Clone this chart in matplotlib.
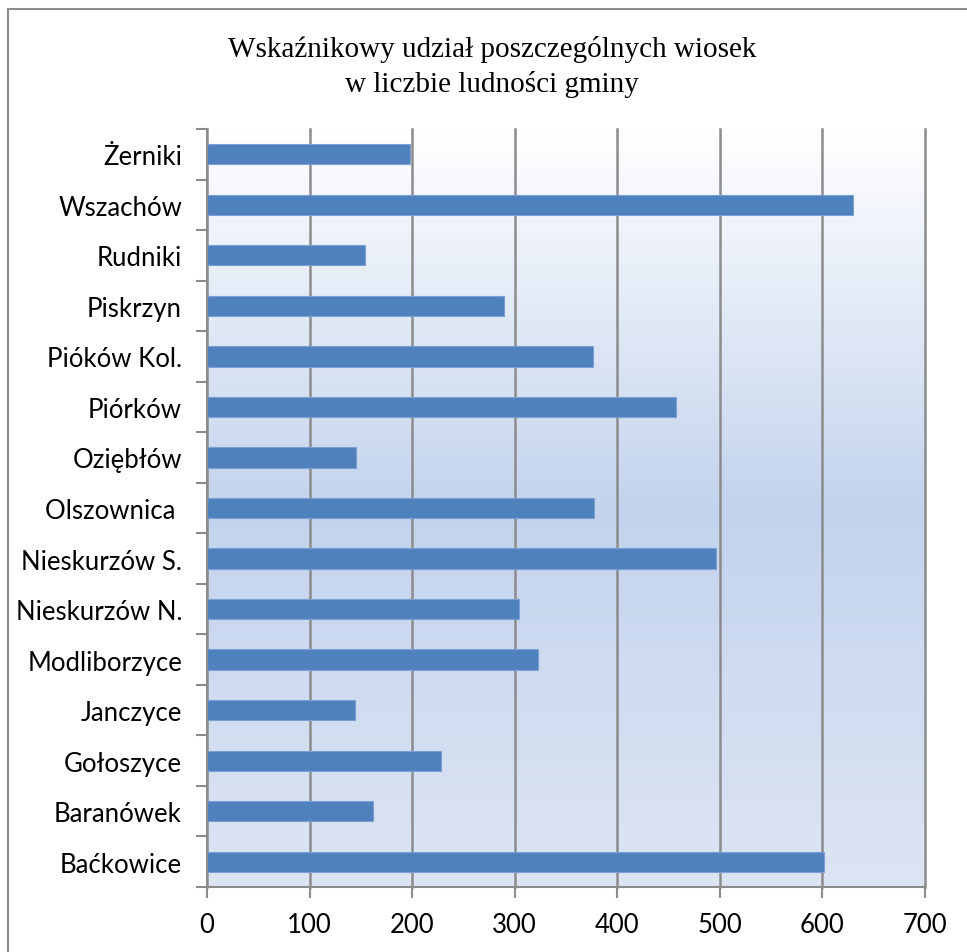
import matplotlib
matplotlib.use('Agg')
import matplotlib.pyplot as plt
import numpy as np
from matplotlib.colors import LinearSegmentedColormap
from matplotlib.patches import Rectangle

# dane z wykresu (od dołu do góry)
villages = ['Baćkowice', 'Baranówek', 'Gołoszyce', 'Janczyce', 'Modliborzyce',
            'Nieskurzów N.', 'Nieskurzów S.', 'Olszownica ', 'Oziębłów', 'Piórków',
            'Pióków Kol.', 'Piskrzyn', 'Rudniki', 'Wszachów', 'Żerniki']
values = [602, 162, 228, 144, 323, 304, 496, 377, 145, 457, 376, 290, 154, 630, 198]
x_ticks = [0, 100, 200, 300, 400, 500, 600, 700]

title = 'Wskaźnikowy udział poszczególnych wiosek\nw liczbie ludności gminy'

fig = plt.figure(figsize=(9.67, 9.53), dpi=100)
fig.patch.set_facecolor('white')

# ramka wykresu (częściowo poza obrazkiem)
fig.patches.append(Rectangle((8 / 967, -0.05), 1.1, 1 - 10 / 953 + 0.05,
                             transform=fig.transFigure, fill=False,
                             edgecolor='#8c8c8c', linewidth=1.5, zorder=0))

ax = fig.add_axes([207 / 967, 1 - 888 / 953, (925 - 207) / 967, (888 - 130) / 953])

# gradient tła
cmap = LinearSegmentedColormap.from_list('bg', [(0.0, '#ffffff'), (0.5, '#c3d3ed'), (1.0, '#dde5f4')])
grad = np.linspace(0, 1, 256).reshape(-1, 1)
ax.imshow(grad, aspect='auto', cmap=cmap, extent=[0, 1, 0, 1],
          transform=ax.transAxes, zorder=0, interpolation='bicubic')

pos = np.arange(len(villages))
ax.barh(pos, values, height=0.4, color='#4f81bd', edgecolor='#7ba0d4',
        linewidth=0.8, zorder=3)

ax.set_xlim(0, 700)
ax.set_ylim(-0.5, len(villages) - 0.5)
ax.set_xticks(x_ticks)
ax.set_xticklabels([str(t) for t in x_ticks], fontsize=18.5, family='Lato')
ax.set_yticks(pos)
ax.set_yticklabels(villages, fontsize=18.5, family='Lato')
ax.set_yticks(np.arange(-0.5, len(villages), 1), minor=True)

ax.tick_params(axis='y', which='major', length=0, pad=18)
ax.tick_params(axis='y', which='minor', length=8, width=1.5, color='#8c8c8c', direction='out')
ax.tick_params(axis='x', which='major', length=8, width=1.5, color='#8c8c8c', direction='out', pad=10)

ax.grid(axis='x', color='#8c8c8c', linewidth=1.8, zorder=1)
ax.set_axisbelow(True)
for gl in ax.get_xgridlines():
    gl.set_clip_on(False)

for s in ['top', 'right']:
    ax.spines[s].set_visible(False)
for s in ['left', 'bottom']:
    ax.spines[s].set_color('#8c8c8c')
    ax.spines[s].set_linewidth(1.5)
    ax.spines[s].set_zorder(4)

fig.text(0.509, 1 - 67 / 953, title, ha='center', va='center', fontsize=21,
         family='Liberation Serif', linespacing=1.42)

plt.savefig('out.png', dpi=100)
